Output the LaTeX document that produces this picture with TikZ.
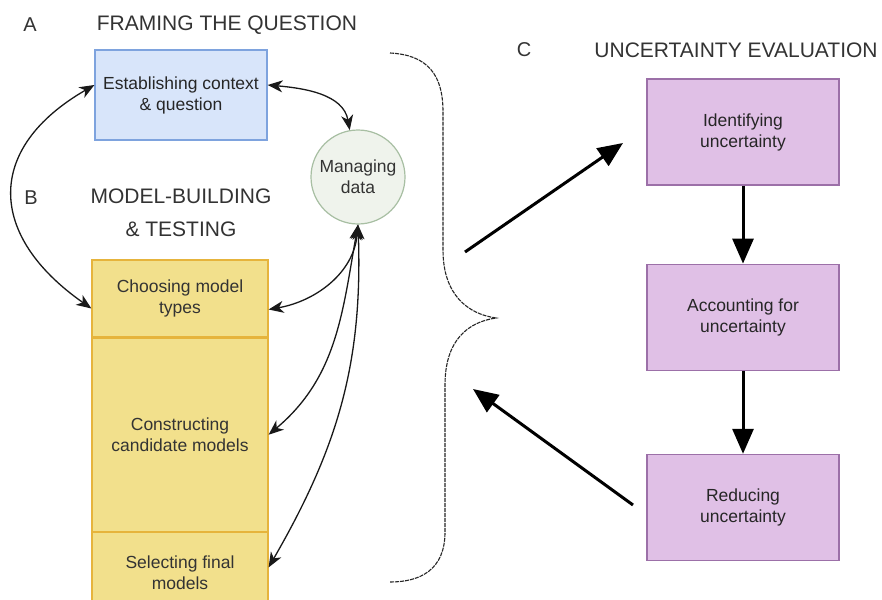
\documentclass[tikz,border=0pt]{standalone}
\usepackage{fontspec}
\setmainfont{Liberation Sans}
\usetikzlibrary{positioning,arrows.meta}

\definecolor{headgray}{HTML}{333333}
\definecolor{qfill}{HTML}{D8E5FA}
\definecolor{qdraw}{HTML}{7EA3DE}
\definecolor{mfill}{HTML}{F2E08C}
\definecolor{mdraw}{HTML}{E6B43C}
\definecolor{ufill}{HTML}{E0C0E6}
\definecolor{udraw}{HTML}{9C70A8}
\definecolor{dfill}{HTML}{EFF3EC}
\definecolor{ddraw}{HTML}{A8BFA3}

\begin{document}
\begin{tikzpicture}[x=1pt, y=1pt, node distance=80pt,
  boxtext/.style={font=\fontsize{17.5}{21}\selectfont, align=center, inner sep=2pt},
  heading/.style={font=\fontsize{21}{33}\selectfont, text=headgray, align=center},
  panel/.style={font=\fontsize{20}{24}\selectfont, text=headgray},
  question/.style={boxtext, draw=qdraw, fill=qfill, line width=1.2pt, text=black!85,
    minimum width=172pt, minimum height=90pt},
  modelbox/.style={boxtext, draw=mdraw, fill=mfill, line width=1.2pt, text=black!80,
    minimum width=176pt},
  uncbox/.style={boxtext, draw=udraw, fill=ufill, line width=1.2pt, text=black!85,
    minimum width=192pt, minimum height=106pt},
  datanode/.style={boxtext, circle, draw=ddraw, fill=dfill, line width=1.2pt,
    text=black!80, minimum size=94pt, inner sep=0pt},
  link/.style={line width=1.3pt, black!90,
    arrows={Stealth[length=15pt, width=12pt, inset=4.5pt]-Stealth[length=15pt, width=12pt, inset=4.5pt]}},
  bigarrow/.style={line width=3pt, arrows=-{Triangle[length=25pt, width=21pt]}},
  bracket/.style={line width=1.1pt, black!85, dash pattern=on 4pt off 1pt}]

\path[use as bounding box, fill=white] (0,0) rectangle (882,-599);

% A: framing the question
\node (A) [panel] at (30,-25) {A};
\node (framing) [heading] at (227,-25) {FRAMING THE QUESTION};
\node (context) [question] at (181,-95) {Establishing context\\\& question};
\node (data) [datanode] at (358,-177) {Managing\\data};

% B: model-building and testing
\node (B) [panel] at (31,-198) {B};
\node (building) [heading] at (181,-213) {MODEL-BUILDING\\\& TESTING};
\node (types) [modelbox, minimum height=77pt] at (180,-298.5) {Choosing model\\types};
\node (candidates) [modelbox, minimum height=193pt, below=0pt of types] {Constructing\\candidate models};
\node (final) [modelbox, minimum height=80pt, below=0pt of candidates] {Selecting final\\models};

% C: uncertainty evaluation
\node (C) [panel] at (524,-50) {C};
\node (uncertainty) [heading] at (736,-50) {UNCERTAINTY EVALUATION};
\node (identify) [uncbox] at (743,-132) {Identifying\\uncertainty};
\node (account) [uncbox, below=78pt of identify] {Accounting for\\uncertainty};
\node (reduce) [uncbox, below=83pt of account] {Reducing\\uncertainty};

\draw[bigarrow] (identify) -- (account);
\draw[bigarrow] (account) -- (reduce);

% curly bracket round A and B
\draw[bracket] (390,-53) .. controls (428,-55) and (443,-75) .. (443,-112) -- (443,-250)
  .. controls (443,-295) and (468,-314) .. (496,-318)
  .. controls (468,-322) and (445,-340) .. (445,-385) -- (445,-532)
  .. controls (445,-570) and (420,-582) .. (390,-582);

\coordinate (braceout) at (465,-252);
\coordinate (ucin) at (623,-143);
\coordinate (ucout) at (633,-505);
\coordinate (bracein) at (473,-389);
\draw[bigarrow] (braceout) -- (ucin);
\draw[bigarrow] (ucout) -- (bracein);

% links
\draw[link] ([yshift=-10pt]types.west) to[out=145, in=210, looseness=1.45] ([yshift=10pt]context.west);
\draw[link] ([yshift=10pt]context.east) to[out=-5, in=100] (data.100);
\draw[link] (data.south) to[out=-95, in=10] ([yshift=-11pt]types.east);
\draw[link] (data.south) to[out=-100, in=40] (candidates.east);
\draw[link] (data.south) to[out=-88, in=60] ([yshift=5pt]final.east);
\end{tikzpicture}
\end{document}
